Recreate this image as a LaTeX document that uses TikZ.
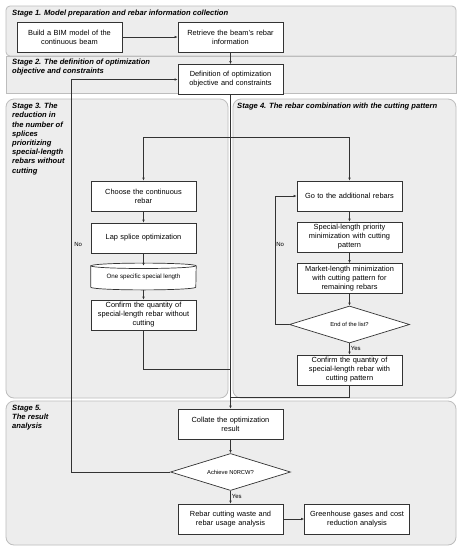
\documentclass[tikz,border=0pt]{standalone}
\usepackage{fontspec}
\setmainfont{Liberation Sans}
\usetikzlibrary{shapes.geometric,arrows.meta}
\definecolor{panelfill}{HTML}{EDEDED}
\definecolor{panelborder}{HTML}{BDBDBD}
\definecolor{linec}{HTML}{333333}
\begin{document}
\begin{tikzpicture}[x=1pt,y=-1pt,
 panel/.style={draw=panelborder, fill=panelfill, line width=0.8pt},
 box/.style={draw=linec, fill=white, line width=0.7pt, minimum width=105pt, minimum height=30pt, text width=102pt, align=center, inner sep=1pt, font=\fontsize{7.4}{9}\selectfont},
 dec/.style={diamond, draw=linec, fill=white, line width=0.7pt, minimum width=120pt, minimum height=37pt, inner sep=0pt, aspect=3.2, font=\fontsize{5.8}{7}\selectfont},
 stagelbl/.style={anchor=north west, align=left, inner sep=0pt, font=\fontsize{7.6}{9.2}\selectfont\bfseries\itshape},
 arr/.style={draw=linec, line width=0.6pt, -{Latex[length=3pt,width=2.6pt]}},
 ln/.style={draw=linec, line width=0.6pt},
 lbl/.style={font=\fontsize{6}{7}\selectfont, inner sep=1pt}
]
\useasboundingbox (0,0) rectangle (461,550);
\fill[white] (0,0) rectangle (461,550);
% panels
\path[panel, rounded corners=4pt] (6,6) rectangle (456,56);
\path[panel] (6,56) rectangle (456,93);
\path[panel, rounded corners=8pt] (6,99) rectangle (228,398);
\path[panel, rounded corners=8pt] (233,99) rectangle (456,398);
\path[panel, rounded corners=8pt] (6,401) rectangle (456,545);
% stage labels
\node[stagelbl] (s1) at (12,9.5) {Stage 1. Model preparation and rebar information collection};
\node[stagelbl] (s2) at (12,58.5) {Stage 2. The definition of optimization\\objective and constraints};
\node[stagelbl] (s3) at (12,103) {Stage 3. The\\reduction in\\the number of\\splices\\prioritizing\\special-length\\rebars without\\cutting};
\node[stagelbl] (s4) at (237,103) {Stage 4. The rebar combination with the cutting pattern};
\node[stagelbl] (s5) at (12,405) {Stage 5.\\The result\\analysis};
% nodes
\node[box] (build) at (69.5,37) {Build a BIM model of the\\continuous beam};
\node[box] (retr) at (230.5,37) {Retrieve the beam’s rebar\\information};
\node[box] (def) at (230.5,79.5) {Definition of optimization\\objective and constraints};
\node[box] (choose) at (143.5,196) {Choose the continuous\\rebar};
\node[box] (lap) at (143.5,238) {Lap splice optimization};
\node[inner sep=0pt, minimum width=105pt, minimum height=21pt, font=\fontsize{6.2}{7}\selectfont] (cyl) at (143.5,276.5) {One specific special length};
\draw[draw=linec, fill=white, line width=0.7pt] (cyl.north west) -- (cyl.south west) arc[start angle=180, end angle=360, x radius=52.5pt, y radius=2.7pt] -- (cyl.north east) arc[start angle=0, end angle=180, x radius=52.5pt, y radius=2.7pt] -- cycle;
\draw[draw=linec, line width=0.7pt] (cyl.north west) arc[start angle=180, end angle=360, x radius=52.5pt, y radius=2.7pt];
\node[inner sep=0pt, font=\fontsize{6.2}{7}\selectfont] at (cyl.center) {One specific special length};
\node[box] (conf3) at (143.5,315) {Confirm the quantity of\\special-length rebar without\\cutting};
\node[box] (goto) at (349.5,196) {Go to the additional rebars};
\node[box] (spl) at (349.5,237) {Special-length priority\\minimization with cutting\\pattern};
\node[box] (mkt) at (349.5,278.5) {Market-length minimization\\with cutting pattern for\\remaining rebars};
\node[dec] (endl) at (349.5,324.5) {End of the list?};
\node[box] (conf4) at (349.5,370) {Confirm the quantity of\\special-length rebar with\\cutting pattern};
\node[box] (coll) at (230.5,424) {Collate the optimization\\result};
\node[dec] (ach) at (230.5,472) {Achieve N0RCW?};
\node[box] (rcw) at (230.5,519) {Rebar cutting waste and\\rebar usage analysis};
\node[box] (ghg) at (357,519) {Greenhouse gases and cost\\reduction analysis};
% coordinates
\coordinate (j1) at (230.5,137);
\coordinate (m1) at (230.5,369);
\coordinate (m2) at (230.5,397);
\coordinate (c1) at (71,472);
\coordinate (c2) at (275,324.5);
% connectors
\draw[arr] (build) -- (retr);
\draw[arr] (retr) -- (def);
\draw[arr] (def.south) -- (coll.north);
\draw[arr] (j1) -| (choose.north);
\draw[arr] (j1) -| (goto.north);
\draw[arr] (choose) -- (lap);
\draw[arr] (lap.south) -- (cyl.north);
\draw[arr] (cyl.south) ++(0,2.7) -- (conf3.north);
\draw[ln] (conf3.south) |- (m1);
\draw[arr] (goto) -- (spl);
\draw[arr] (spl) -- (mkt);
\draw[arr] (mkt) -- (endl);
\draw[arr] (endl) -- node[lbl, right, pos=0.45] {Yes} (conf4);
\draw[ln] (conf4.south) |- (m2);
\draw[arr] (endl.west) -- (c2) |- node[lbl, pos=0.31, right] {No} (goto.west);
\draw[arr] (coll) -- (ach);
\draw[arr] (ach) -- node[lbl, right, pos=0.45] {Yes} (rcw);
\draw[arr] (rcw) -- (ghg);
\draw[arr] (ach.west) -- (c1) |- node[lbl, pos=0.29, right=2pt] {No} (def.west);
\end{tikzpicture}
\end{document}
